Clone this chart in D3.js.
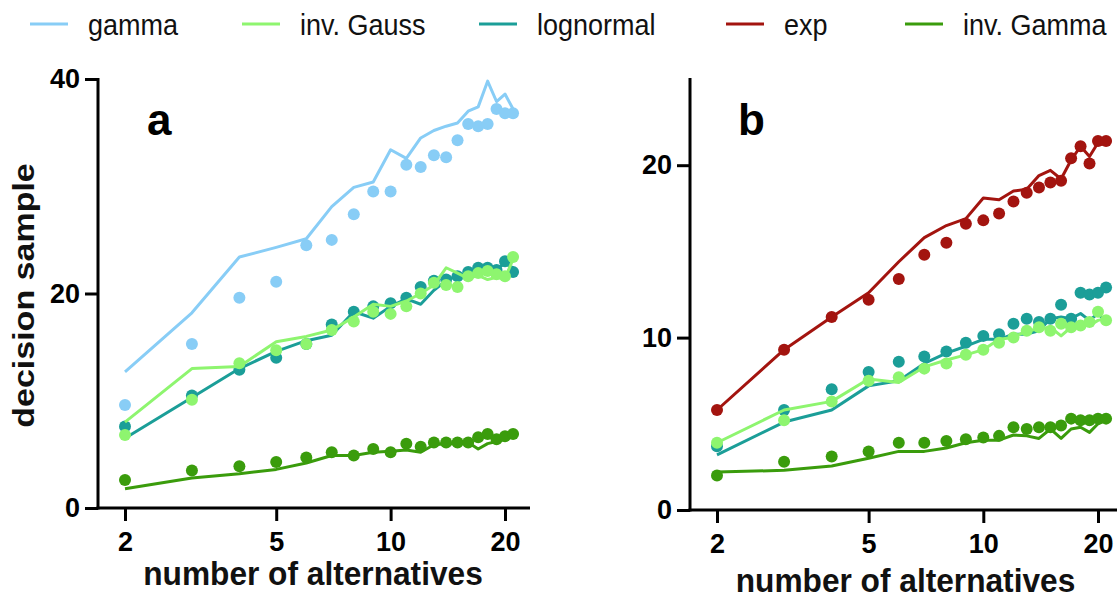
<!DOCTYPE html>
<html>
<head>
<meta charset="utf-8">
<script src="https://cdn.jsdelivr.net/npm/d3@7"></script>
<style>
  html, body { margin: 0; padding: 0; background: #fff; }
  svg { display: block; }
</style>
</head>
<body>
<div id="content"></div>
<script>
// number of alternatives (x categories)
const alternatives = [2, 3, 4, 5, 6, 7, 8, 9, 10, 11, 12, 13, 14, 15, 16, 17, 18, 19, 20, 21];

// panel a: lines = model, dots = data
const gammaFitA = [12.7, 18.2, 23.4, 24.3, 25.1, 28.1, 29.9, 30.4, 33.4, 32.6, 34.5, 35.2, 35.6, 35.9, 37.0, 37.4, 39.8, 37.9, 38.6, 37.2];
const gammaObsA = [9.6, 15.3, 19.6, 21.1, 24.5, 25.0, 27.4, 29.5, 29.5, 32.0, 31.8, 32.9, 32.7, 34.3, 35.8, 35.6, 35.8, 37.2, 36.8, 36.8];
const lognormalFitA = [6.5, 10.3, 13.0, 14.6, 15.6, 16.1, 18.3, 17.7, 18.8, 19.5, 19.0, 20.3, 21.2, 21.7, 21.8, 22.3, 22.5, 22.3, 22.8, 22.4];
const lognormalObsA = [7.6, 10.5, 12.9, 14.0, 15.3, 17.1, 18.3, 18.8, 19.1, 19.6, 20.6, 21.2, 21.3, 21.6, 22.0, 22.4, 22.4, 22.2, 23.0, 22.0];
const invGaussFitA = [8.0, 13.0, 13.2, 15.5, 16.0, 16.6, 17.8, 19.0, 18.8, 19.3, 20.0, 20.8, 22.4, 21.9, 21.4, 21.7, 21.3, 21.5, 21.4, 23.2];
const invGaussObsA = [6.8, 10.1, 13.5, 14.7, 15.3, 16.6, 17.4, 18.3, 18.1, 18.8, 20.0, 21.0, 20.8, 20.6, 21.6, 21.9, 22.1, 21.8, 21.6, 23.4];
const invGammaFitA = [1.8, 2.8, 3.2, 3.6, 4.2, 4.9, 4.9, 5.2, 5.3, 5.4, 5.2, 5.9, 6.0, 6.0, 6.1, 5.5, 6.0, 6.2, 6.4, 6.7];
const invGammaObsA = [2.6, 3.5, 3.9, 4.3, 4.7, 5.2, 4.9, 5.5, 5.2, 6.0, 5.7, 6.1, 6.1, 6.1, 6.1, 6.6, 6.9, 6.4, 6.7, 6.9];

// panel b
const expFitB = [5.8, 9.3, 11.2, 12.6, 14.4, 15.8, 16.5, 16.9, 18.1, 18.0, 18.5, 18.6, 19.4, 19.7, 19.2, 20.3, 21.1, 20.5, 21.3, 21.4];
const expObsB = [5.8, 9.3, 11.2, 12.2, 13.4, 14.8, 15.5, 16.6, 16.8, 17.2, 17.9, 18.4, 18.7, 19.0, 19.1, 20.4, 21.1, 20.1, 21.4, 21.4];
const lognormalFitB = [3.2, 5.1, 5.8, 7.2, 7.5, 8.5, 9.1, 9.5, 9.9, 9.9, 10.2, 10.2, 10.4, 11.1, 11.2, 11.1, 11.4, 11.0, 11.4, 10.9];
const lognormalObsB = [3.7, 5.8, 7.0, 8.0, 8.6, 8.9, 9.2, 9.7, 10.1, 10.2, 10.8, 11.1, 10.9, 11.1, 11.9, 11.1, 12.6, 12.5, 12.6, 12.9];
const invGaussFitB = [3.9, 5.8, 6.3, 7.6, 7.4, 8.3, 8.7, 9.0, 9.3, 9.9, 10.0, 10.4, 10.5, 10.6, 10.1, 10.6, 10.7, 10.7, 11.0, 11.1];
const invGaussObsB = [3.9, 5.2, 6.3, 7.5, 7.7, 8.2, 8.5, 9.0, 9.3, 9.7, 10.0, 10.4, 10.6, 10.4, 10.8, 10.6, 10.7, 10.9, 11.5, 11.0];
const invGammaFitB = [2.2, 2.3, 2.55, 3.0, 3.4, 3.4, 3.6, 3.9, 4.05, 4.05, 4.35, 4.3, 4.15, 4.7, 4.15, 4.7, 4.8, 4.5, 5.0, 5.2];
const invGammaObsB = [2.0, 2.8, 3.1, 3.4, 3.9, 3.9, 4.0, 4.1, 4.2, 4.3, 4.8, 4.7, 4.8, 4.8, 4.9, 5.3, 5.2, 5.2, 5.3, 5.3];

const xTicks = [2, 5, 10, 20];
const legendNames = ['gamma', 'inv. Gauss', 'lognormal', 'exp', 'inv. Gamma'];
const colors = {
  'gamma': '#88cdf6',
  'inv. Gauss': '#8ef56f',
  'lognormal': '#1b9e98',
  'exp': '#a3140f',
  'inv. Gamma': '#3a9c0c',
};

const W = 1117, H = 599;
const font = '"Liberation Sans", Arial, Helvetica, sans-serif';
const squeeze = 0.9;

const svg = d3.select('#content').append('svg')
  .attr('width', W).attr('height', H)
  .style('font-family', font);

// legend
const legendX = [30, 242, 479, 726, 905];
legendNames.forEach((name, i) => {
  const g = svg.append('g').attr('transform', `translate(${legendX[i]}, 0)`);
  g.append('line')
    .attr('x1', 0).attr('x2', 38).attr('y1', 24).attr('y2', 24)
    .attr('stroke', colors[name]).attr('stroke-width', 3);
  g.append('text')
    .attr('transform', `translate(58, 35) scale(${squeeze}, 1)`)
    .attr('font-size', 30)
    .attr('fill', '#111')
    .text(name);
});

const panels = [
  {
    label: 'a', left: 98, xr: [125, 505], xEnd: 530, y0: 508, yTop: 79, ymax: 40, yTicks: [0, 20, 40],
    showYLabel: true, xLabelY: 585,
    series: [
      { name: 'gamma', fit: gammaFitA, obs: gammaObsA },
      { name: 'lognormal', fit: lognormalFitA, obs: lognormalObsA },
      { name: 'inv. Gauss', fit: invGaussFitA, obs: invGaussObsA },
      { name: 'inv. Gamma', fit: invGammaFitA, obs: invGammaObsA },
    ],
  },
  {
    label: 'b', left: 690, xr: [717, 1098], xEnd: 1130, y0: 510, yTop: 79, ymax: 25, yTicks: [0, 10, 20],
    showYLabel: false, xLabelY: 592,
    series: [
      { name: 'exp', fit: expFitB, obs: expObsB },
      { name: 'lognormal', fit: lognormalFitB, obs: lognormalObsB },
      { name: 'inv. Gauss', fit: invGaussFitB, obs: invGaussObsB },
      { name: 'inv. Gamma', fit: invGammaFitB, obs: invGammaObsB },
    ],
  },
];

panels.forEach(p => {
  const x = d3.scaleLog().domain([2, 20]).range(p.xr);
  const y = d3.scaleLinear().domain([0, p.ymax]).range([p.y0, p.yTop]);
  const g = svg.append('g');

  // series
  p.series.forEach(s => {
    const pts = alternatives.map((n, i) => ({ n, fit: s.fit[i], obs: s.obs[i] }));
    const line = d3.line().x(d => x(d.n)).y(d => y(d.fit));
    g.append('path')
      .datum(pts)
      .attr('d', line)
      .attr('fill', 'none')
      .attr('stroke', colors[s.name])
      .attr('stroke-width', 3)
      .attr('stroke-linejoin', 'round');
    g.selectAll(null).data(pts).enter().append('circle')
      .attr('cx', d => x(d.n))
      .attr('cy', d => y(d.obs))
      .attr('r', 6)
      .attr('fill', colors[s.name]);
  });

  // y axis
  const yAxis = d3.axisLeft(y).tickValues(p.yTicks).tickSize(13).tickPadding(5).tickSizeOuter(0);
  const yg = g.append('g').attr('transform', `translate(${p.left}, 0)`).call(yAxis);
  yg.select('.domain').remove();
  yg.append('line')
    .attr('x1', 0).attr('x2', 0).attr('y1', p.yTop - 1).attr('y2', p.y0 + 1.5)
    .attr('stroke', '#000').attr('stroke-width', 3);

  // x axis
  const xAxis = d3.axisBottom(x).tickValues(xTicks).tickFormat(d3.format('d'))
    .tickSize(13).tickPadding(11).tickSizeOuter(0);
  const xg = g.append('g').attr('transform', `translate(0, ${p.y0})`).call(xAxis);
  xg.select('.domain').remove();
  xg.append('line')
    .attr('x1', p.left - 1.5).attr('x2', p.xEnd).attr('y1', 0).attr('y2', 0)
    .attr('stroke', '#000').attr('stroke-width', 3);

  [yg, xg].forEach(ag => {
    ag.selectAll('.tick line').attr('stroke', '#000').attr('stroke-width', 3);
    ag.selectAll('.tick text')
      .attr('fill', '#000')
      .attr('font-size', 27)
      .attr('font-weight', 'bold')
      .attr('font-family', font);
  });

  // panel letter
  g.append('text')
    .attr('x', p.left + (p.label === 'a' ? 49 : 48))
    .attr('y', 135)
    .attr('font-size', 44)
    .attr('font-weight', 'bold')
    .attr('fill', '#000')
    .text(p.label);

  // x axis title
  g.append('text')
    .attr('transform', `translate(${(p.xr[0] + p.xr[1]) / 2 - 2}, ${p.xLabelY}) scale(0.96, 1)`)
    .attr('text-anchor', 'middle')
    .attr('font-size', 33)
    .attr('font-weight', 'bold')
    .attr('fill', '#111')
    .text('number of alternatives');

  if (p.showYLabel) {
    g.append('text')
      .attr('transform', `translate(34, ${(p.y0 + p.yTop) / 2 + 2}) scale(0.85, 1) rotate(-90)`)
      .attr('text-anchor', 'middle')
      .attr('font-size', 34)
      .attr('font-weight', 'bold')
      .attr('fill', '#111')
      .text('decision sample');
  }
});
</script>
</body>
</html>
